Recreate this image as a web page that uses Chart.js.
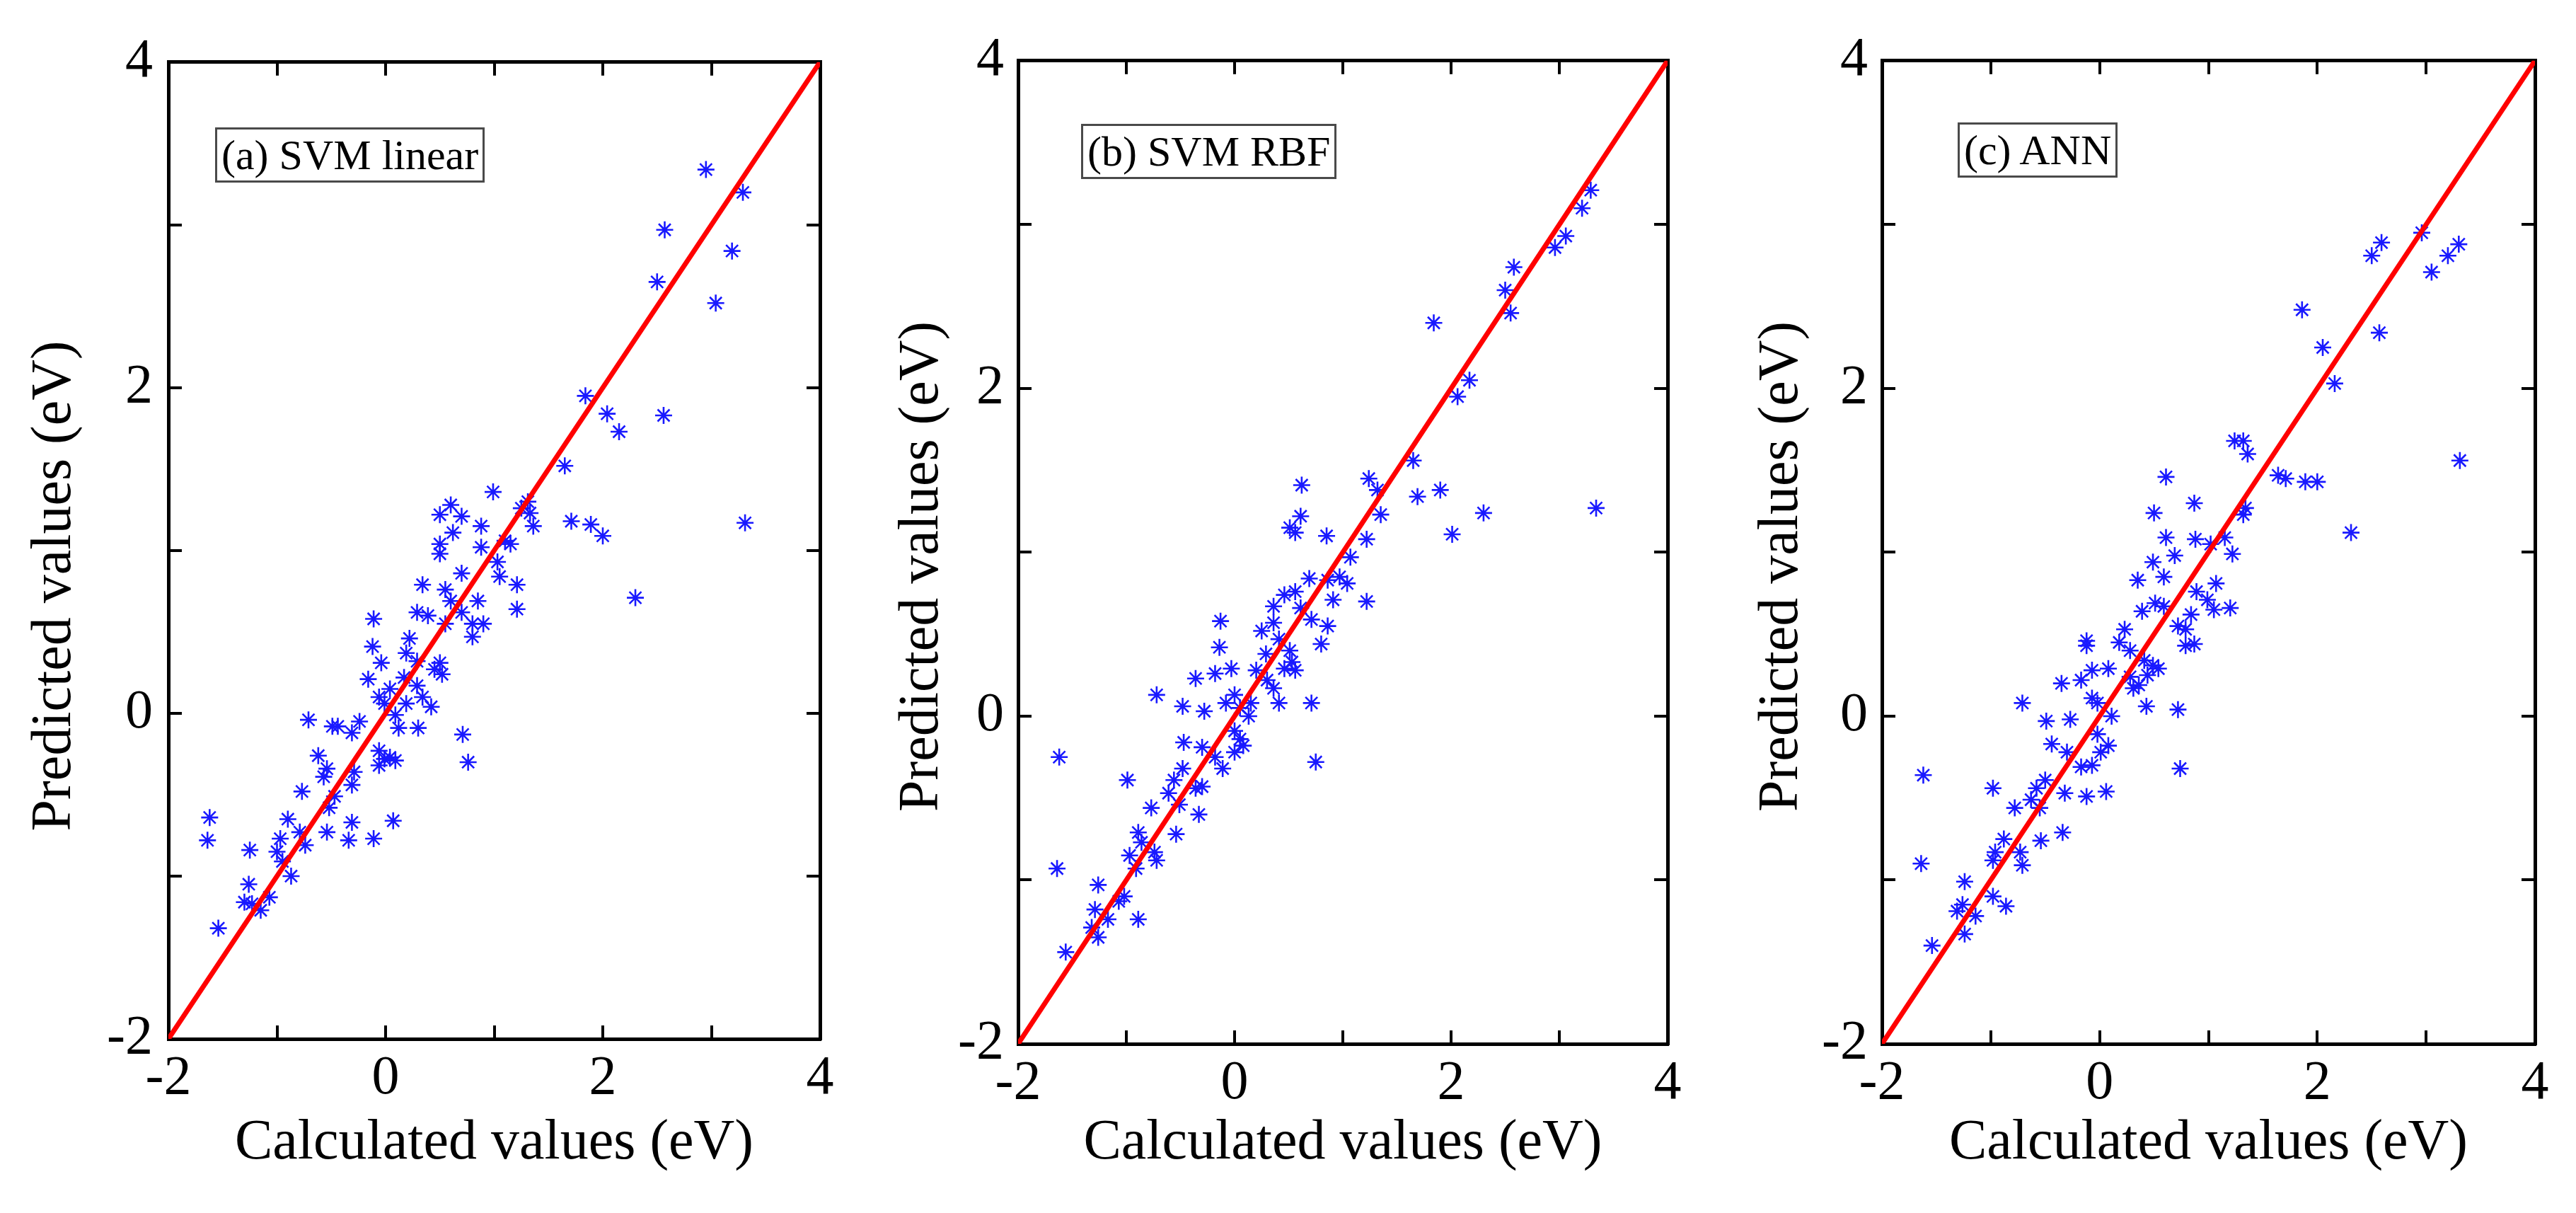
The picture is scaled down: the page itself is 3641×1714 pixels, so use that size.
<!DOCTYPE html>
<html><head><meta charset="utf-8">
<script src="https://cdn.jsdelivr.net/npm/chart.js@4.4.1/dist/chart.umd.min.js"></script>
<style>
html,body{margin:0;padding:0;background:#fff;width:3641px;height:1714px;overflow:hidden;}
canvas{position:absolute;top:0;}
.tag{position:absolute;box-sizing:border-box;border:3px solid #4a4a4a;background:#fff;font-family:'Liberation Serif','Times New Roman',serif;font-size:60px;line-height:72px;padding:0 6px;color:#000;white-space:nowrap;}
</style></head><body>
<canvas id="cA" width="1210" height="1714" style="left:0px"></canvas>
<canvas id="cB" width="1210" height="1714" style="left:1210px"></canvas>
<canvas id="cC" width="1221" height="1714" style="left:2420px"></canvas>
<div class="tag" id="tA" style="left:304px;top:180px;">(a) SVM linear</div>
<div class="tag" id="tB" style="left:1528px;top:175px;">(b) SVM RBF</div>
<div class="tag" id="tC" style="left:2767px;top:173px;">(c) ANN</div>
<script>
// ---- data ----
const tickLabels = [-2, 0, 2, 4];
const axisMin = -2, axisMax = 4;
const xTitle = 'Calculated values (eV)';
const yTitle = 'Predicted values (eV)';
const idealX = [-2, 4];
const idealY = [-2, 4];

// (a) SVM linear
const calcA = [2.95,3.29,2.57,3.19,2.50,3.04,1.84,2.04,2.56,2.15,1.65,0.99,3.31,1.71,1.89,2.00,2.30,1.25,1.33,1.36,1.31,0.60,0.50,0.70,0.62,0.88,0.50,0.50,0.88,1.03,1.15,1.05,1.21,1.21,0.34,0.55,0.70,0.85,0.60,0.29,0.39,0.70,0.80,0.90,0.80,0.55,-0.11,-0.12,0.22,0.19,-0.04,0.29,0.50,0.52,0.45,-0.16,0.17,0.29,-0.06,0.04,0.34,-0.01,0.42,0.09,0.19,-0.71,-0.49,-0.44,-0.24,-0.31,0.12,0.30,0.71,0.76,-0.06,-0.01,0.04,0.09,-0.06,-0.62,-0.54,-0.57,-0.29,-0.31,-0.77,-0.47,-0.52,-0.31,0.07,-1.62,-1.64,-0.90,-0.54,-0.34,-0.11,-0.79,-0.74,-0.97,-1.00,-1.25,-0.87,-0.95,-1.26,-1.30,-1.07,-1.15,-1.54,-1.23,1.10];
const predA = [3.34,3.20,2.97,2.84,2.65,2.52,1.95,1.84,1.83,1.73,1.52,1.36,1.17,1.18,1.16,1.09,0.71,1.26,1.23,1.15,1.30,1.28,1.22,1.21,1.11,1.15,1.04,0.98,1.02,0.93,1.04,0.84,0.79,0.64,0.79,0.76,0.86,0.69,0.69,0.62,0.60,0.62,0.55,0.55,0.47,0.55,0.58,0.41,0.46,0.37,0.31,0.32,0.31,0.24,0.27,0.21,0.22,0.17,0.10,0.15,0.10,0.06,0.04,-0.01,0.06,-0.04,-0.08,-0.08,-0.05,-0.12,-0.09,-0.09,-0.13,-0.30,-0.23,-0.28,-0.27,-0.29,-0.32,-0.26,-0.34,-0.39,-0.36,-0.44,-0.48,-0.51,-0.58,-0.67,-0.66,-0.64,-0.78,-0.65,-0.73,-0.78,-0.77,-0.73,-0.81,-0.77,-0.85,-0.84,-1.00,-0.91,-1.05,-1.16,-1.13,-1.21,-1.32,-1.17,1.06];

// (b) SVM RBF
const calcB = [3.29,3.21,3.06,2.96,2.58,2.50,2.55,1.84,2.17,2.06,1.65,1.24,0.62,1.32,1.90,1.69,3.34,2.30,1.35,0.61,0.51,0.56,2.01,0.85,1.22,1.07,0.97,0.86,1.04,1.22,0.69,0.56,0.46,0.36,0.61,0.71,0.86,0.80,-0.13,-0.14,0.25,0.36,0.41,0.51,0.53,0.46,0.56,0.29,0.20,-0.03,-0.18,-0.36,0.30,0.36,0.00,-0.08,0.05,-0.72,0.41,0.71,-0.48,-0.28,0.13,0.00,0.08,0.00,0.05,-0.47,-0.30,-0.11,-0.18,-1.62,0.75,-0.48,-0.56,-0.99,-0.30,-0.36,-0.61,-0.77,-0.51,-0.33,-0.54,-0.89,-0.86,-0.97,-0.74,-0.72,-0.91,-1.64,-1.26,-1.02,-1.07,-1.29,-0.89,-1.17,-1.32,-1.26,-1.56,0.91,0.15];
const predB = [3.21,3.10,2.93,2.86,2.74,2.60,2.46,2.40,2.05,1.95,1.56,1.45,1.41,1.38,1.38,1.34,1.27,1.24,1.23,1.22,1.15,1.12,1.11,1.10,1.08,0.97,0.85,0.83,0.81,0.70,0.84,0.76,0.74,0.67,0.66,0.59,0.55,0.44,0.58,0.42,0.52,0.57,0.47,0.40,0.33,0.29,0.28,0.38,0.28,0.29,0.26,0.23,0.22,0.17,0.13,0.08,0.05,0.13,0.08,0.08,0.06,0.03,0.00,-0.09,-0.18,-0.22,-0.14,-0.16,-0.19,-0.32,-0.25,-0.25,-0.28,-0.32,-0.39,-0.39,-0.43,-0.44,-0.47,-0.56,-0.54,-0.60,-0.72,-0.71,-0.77,-0.85,-0.83,-0.88,-0.93,-0.93,-1.03,-1.10,-1.13,-1.18,-1.24,-1.24,-1.29,-1.35,-1.44,0.71,0.08];

// (c) ANN
const calcC = [2.96,3.30,3.20,2.59,2.50,3.05,1.86,2.57,2.05,2.16,1.24,1.32,1.36,3.31,0.61,1.64,1.71,1.89,2.00,0.87,0.50,1.34,1.32,2.31,0.61,0.88,1.02,1.15,0.69,1.22,0.49,0.59,0.35,1.07,0.89,0.84,0.99,1.05,1.20,0.39,0.51,0.59,0.72,0.79,0.87,0.23,0.18,-0.12,-0.12,0.28,0.41,0.49,0.54,0.44,0.08,-0.07,-0.17,-0.35,0.28,0.31,0.36,-0.07,-0.02,-0.71,0.43,0.72,0.11,-0.49,-0.27,-0.02,0.08,0.01,-0.07,-0.44,-0.30,-0.17,0.74,-1.62,-0.58,-0.50,-0.32,-0.98,0.06,-0.12,-0.63,-0.55,-0.78,-0.34,-0.54,-0.88,-0.96,-0.73,-0.71,-1.64,-0.98,-1.24,-0.98,-0.86,-1.26,-1.31,-1.14,-1.24,-1.54,0.79];
const predC = [2.95,2.88,2.81,2.89,2.81,2.71,2.48,2.34,2.25,2.03,1.68,1.68,1.60,1.56,1.46,1.47,1.45,1.43,1.43,1.30,1.24,1.27,1.23,1.12,1.09,1.08,1.05,1.09,0.98,0.99,0.94,0.85,0.83,0.81,0.76,0.62,0.71,0.65,0.66,0.64,0.69,0.67,0.55,0.43,0.44,0.53,0.45,0.46,0.43,0.40,0.34,0.31,0.29,0.25,0.29,0.28,0.22,0.20,0.24,0.17,0.19,0.11,0.08,0.08,0.06,0.04,0.00,-0.03,-0.02,-0.11,-0.18,-0.22,-0.30,-0.17,-0.22,-0.31,-0.32,-0.36,-0.44,-0.39,-0.47,-0.44,-0.46,-0.49,-0.51,-0.56,-0.56,-0.71,-0.76,-0.75,-0.83,-0.83,-0.91,-0.90,-0.88,-1.01,-1.10,-1.16,-1.15,-1.19,-1.22,-1.33,-1.40,0.53];

// ---- layout (pixel geometry of each panel inside its canvas) ----
const layoutA = {left:238, right:51, top:70, bottom:246, yTitlePad:30, yShift:'\u00A0\u00A0\u00A0\u00A0\u00A0', yPad:41};
const layoutB = {left:229, right:63, top:77, bottom:239, yTitlePad:46, yShift:'\u00A0\u00A0', yPad:39};
const layoutC = {left:240, right:58, top:77, bottom:239, yTitlePad:51, yShift:'\u00A0\u00A0', yPad:39};

const SERIF = "'Liberation Serif', 'Times New Roman', serif";
const BLUE = 'rgb(25,25,255)';

function labelCb(v){ return tickLabels.includes(v) ? String(v) : ''; }
function blankCb(){ return ''; }

function gridOpts(){
  return {display:true, drawOnChartArea:false, drawTicks:true, tickLength:-19, tickWidth:4, tickColor:'#000', color:'#000', lineWidth:4};
}
function borderOpts(){ return {display:true, color:'#000', width:5}; }

function makeChart(id, calc, pred, L){
  const pts = calc.map((x,i)=>({x:x, y:pred[i]}));
  const line = idealX.map((x,i)=>({x:x, y:idealY[i]}));
  return new Chart(document.getElementById(id), {
    type:'scatter',
    data:{datasets:[
      {label:'y = x', data:line, showLine:true, borderColor:'#ff0000', borderWidth:7, pointRadius:0, fill:false, order:0},
      {label:'data', data:pts, pointStyle:'star', pointRadius:12, pointBorderWidth:2.6, borderColor:BLUE, backgroundColor:BLUE, order:1}
    ]},
    options:{
      responsive:false, animation:false, devicePixelRatio:1, events:[],
      layout:{padding:0},
      plugins:{legend:{display:false}, tooltip:{enabled:false}},
      scales:{
        x:{type:'linear', position:'bottom', min:axisMin, max:axisMax,
           ticks:{stepSize:1, callback:labelCb, color:'#000', padding:29, maxRotation:0, autoSkip:false, font:{family:SERIF, size:78}},
           grid:gridOpts(), border:borderOpts(),
           title:{display:true, text:xTitle, color:'#000', font:{family:SERIF, size:80}, padding:{top:0,bottom:50}},
           afterFit:(s)=>{ s.height = L.bottom; }},
        x2:{type:'linear', position:'top', min:axisMin, max:axisMax,
           ticks:{stepSize:1, callback:blankCb, font:{size:10}},
           grid:gridOpts(), border:borderOpts(),
           afterFit:(s)=>{ s.height = L.top; }},
        y:{type:'linear', position:'left', min:axisMin, max:axisMax,
           ticks:{stepSize:1, callback:labelCb, color:'#000', padding:L.yPad, autoSkip:false, font:{family:SERIF, size:78}},
           grid:gridOpts(), border:borderOpts(),
           title:{display:true, text:yTitle + L.yShift, color:'#000', font:{family:SERIF, size:80}, padding:{top:L.yTitlePad,bottom:0}},
           afterFit:(s)=>{ s.width = L.left; }},
        y2:{type:'linear', position:'right', min:axisMin, max:axisMax,
           ticks:{stepSize:1, callback:blankCb, font:{size:10}},
           grid:gridOpts(), border:borderOpts(),
           afterFit:(s)=>{ s.width = L.right; }}
      }
    }
  });
}
function build(){
  makeChart('cA', calcA, predA, layoutA);
  makeChart('cB', calcB, predB, layoutB);
  makeChart('cC', calcC, predC, layoutC);
}
if (document.fonts && document.fonts.load) {
  Promise.all([document.fonts.load("80px 'Liberation Serif'"), document.fonts.load("78px 'Liberation Serif'")]).then(build, build);
} else { build(); }
</script>
</body></html>
